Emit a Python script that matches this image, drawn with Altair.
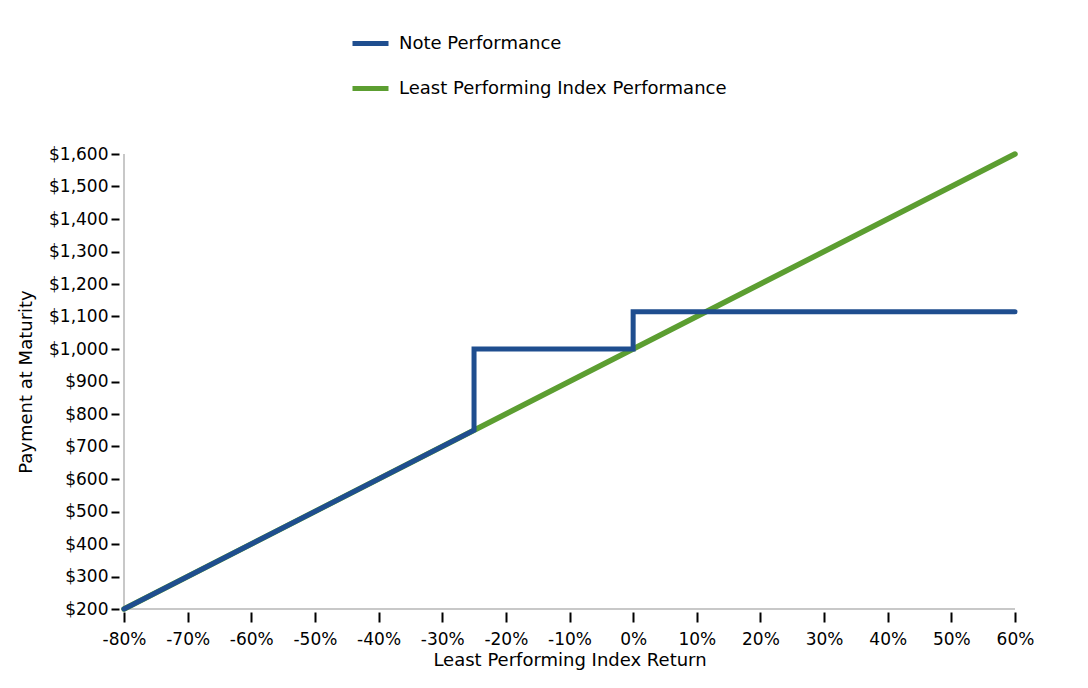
import altair as alt
import pandas as pd

# Data
index_return = [-0.80, 0.60]
index_payment = [200, 1600]

note_return = [-0.80, -0.25, -0.25, 0.00, 0.00, 0.60]
note_payment = [200, 750, 1000, 1000, 1115, 1115]

series_names = ["Note Performance", "Least Performing Index Performance"]
series_colors = ["#1F4E8F", "#5C9E31"]

x_ticks = [round(-0.8 + 0.1 * i, 1) for i in range(15)]
y_ticks = list(range(200, 1700, 100))

idx_df = pd.DataFrame({"ret": index_return, "pay": index_payment,
                       "series": series_names[1], "order": range(len(index_return))})
note_df = pd.DataFrame({"ret": note_return, "pay": note_payment,
                        "series": series_names[0], "order": range(len(note_return))})

FONT = "DejaVu Sans"
W, H = 891, 455

color = alt.Color(
    "series:N",
    scale=alt.Scale(domain=series_names, range=series_colors),
    legend=alt.Legend(
        title=None, orient="none", legendX=226, legendY=-131,
        symbolType="stroke", symbolStrokeWidth=5, symbolSize=1296,
        labelFontSize=18, labelFont=FONT, labelColor="#000000",
        labelOffset=8, rowPadding=14, padding=0, labelLimit=600,
    ),
)

x_enc = alt.X(
    "ret:Q",
    scale=alt.Scale(domain=[-0.8, 0.6], nice=False, zero=False),
    axis=alt.Axis(
        title="Least Performing Index Return", values=x_ticks,
        labelExpr="(datum.value < -0.0001 ? '-' : '') + format(abs(datum.value), '.0%')",
        labelOverlap=False, labelBound=False, labelFlush=False,
        domain=False, grid=False, offset=3, tickSize=10, tickWidth=2, tickColor="#000000",
        labelPadding=9, labelFontSize=17, labelFont=FONT, labelColor="#000000",
        titleFontSize=18, titleFont=FONT, titleFontWeight="normal", titleColor="#000000",
        titlePadding=4,
    ),
)
y_enc = alt.Y(
    "pay:Q",
    scale=alt.Scale(domain=[200, 1600], nice=False, zero=False),
    axis=alt.Axis(
        title="Payment at Maturity", values=y_ticks, format="$,.0f",
        labelOverlap=False, labelBound=False, labelFlush=False,
        domain=False, grid=False, offset=5, tickSize=8, tickWidth=2, tickColor="#000000",
        labelPadding=3, labelFontSize=17, labelFont=FONT, labelColor="#000000",
        titleFontSize=18, titleFont=FONT, titleFontWeight="normal", titleColor="#000000",
        titlePadding=13,
    ),
)

idx_line = alt.Chart(idx_df).mark_line(strokeWidth=5.5, strokeCap="round").encode(
    x=x_enc, y=y_enc, color=color, order="order:Q"
)
note_line = alt.Chart(note_df).mark_line(strokeWidth=5, strokeCap="round", strokeJoin="miter").encode(
    x=x_enc, y=y_enc, color=color, order="order:Q"
)

domain_x = alt.Chart(pd.DataFrame({"a": [0]})).mark_rule(color="#c8c8c8", strokeWidth=2).encode(
    x=alt.value(0), x2=alt.value(W), y=alt.value(H)
)
domain_y = alt.Chart(pd.DataFrame({"a": [0]})).mark_rule(color="#c8c8c8", strokeWidth=2).encode(
    x=alt.value(0), y=alt.value(0), y2=alt.value(H)
)

chart = alt.layer(domain_x, domain_y, idx_line, note_line).properties(
    width=W, height=H,
    autosize=alt.AutoSizeParams(type="none"),
    padding={"left": 116, "top": 146, "right": 50, "bottom": 70},
).configure(background="white").configure_view(stroke="transparent", strokeWidth=0)

chart.save("out.html", embed_options={"renderer": "svg", "actions": False})
